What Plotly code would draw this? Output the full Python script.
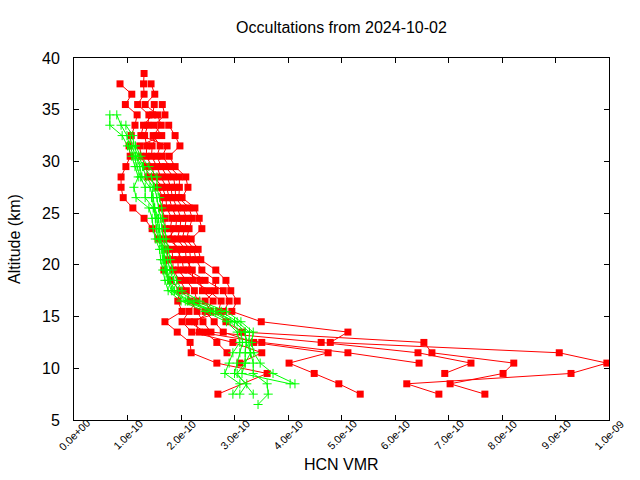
import plotly.graph_objects as go

# ---------------- data ----------------
TITLE = "Occultations from 2024-10-02"
X_LABEL = "HCN VMR"
Y_LABEL = "Altitude (km)"

X_TICK_VALUES = [0.0, 1e-10, 2e-10, 3e-10, 4e-10, 5e-10, 6e-10, 7e-10, 8e-10, 9e-10, 1e-9]
X_TICK_LABELS = ["0.0e+00", "1.0e-10", "2.0e-10", "3.0e-10", "4.0e-10", "5.0e-10",
                 "6.0e-10", "7.0e-10", "8.0e-10", "9.0e-10", "1.0e-09"]
Y_TICK_VALUES = [5, 10, 15, 20, 25, 30, 35, 40]

# altitudes of the red profiles (km)
RED_ALT = [7.5, 8.5, 9.5, 10.5, 11.5, 12.5, 13.5, 14.5, 15.5, 16.5, 17.5, 18.5, 19.5,
           20.5, 21.5, 22.5, 23.5, 24.5, 25.5, 26.5, 27.5, 28.5, 29.5, 30.5, 31.5,
           32.5, 33.5, 34.5, 35.5, 36.5, 37.5, 38.5]

# red profiles, VMR in units of 1e-10 (None = no point)
RED_P1 = [2.69, None, 3.61, 2.67, 2.19, 2.17, 1.93, 1.70, 2.02, 1.94, 1.98, 1.81, 1.68,
          1.76, 1.74, 1.57, 1.46, 1.31, 1.10, 0.92, 0.88, 0.88, 0.97, 1.05, 1.03,
          1.07, 1.14, 1.18, 0.96, 1.08, 0.86, None]
RED_P2 = [5.35, 4.95, 4.49, 4.02, 4.75, 3.36, 2.79, 2.62, 2.45, 2.60, 2.40, 2.35, 2.05,
          2.02, 1.92, 1.84, 1.80, 1.83, 1.73, 1.72, 1.65, 1.50, 1.46, 1.35, 1.36,
          1.32, 1.38, 1.40, 1.19, 1.31, 1.30, 1.31]
RED_P3 = [6.82, 6.22, 9.29, 9.96, 9.07, 4.79, 5.12, 3.50, 2.95, 3.05, 2.93, 2.84, 2.65,
          2.37, 2.32, 2.19, 2.39, 2.34, 2.26, 2.02, 2.13, 2.09, 1.89, 1.78, 1.98,
          1.89, 1.77, None, None, None, None, None]
RED_P4 = [7.68, 7.03, 8.02, 8.22, 6.69, 6.54, 3.14, 2.84, 2.70, 2.75, 2.52, 2.22, 2.21,
          2.10, 2.08, 1.93, 1.98, 2.00, 1.93, 1.84, 1.81, 1.74, 1.63, 1.55, 1.61,
          1.48, 1.63, 1.56, 1.33, 1.51, 1.44, None]
RED_P5 = [None, None, 6.93, 7.42, 6.43, 4.62, 2.56, 2.41, 2.30, 2.17, 2.10, 1.98, 1.85,
          1.85, 1.83, 1.66, 1.70, 1.70, 1.64, 1.66, 1.57, 1.38, 1.35, 1.25, 1.23,
          1.64, 1.50, 1.70, 1.65, None, None, None]
RED_P6 = [None, None, None, 6.45, 5.12, 3.51, 2.34, 2.26, 2.55, 2.45, 2.64, 2.65, 2.39,
          2.28, 2.24, 2.10, 2.15, 2.21, 2.15, 1.96, 1.97, 1.97, 1.79, 1.65, 1.74,
          1.25, 1.30, 1.47, 1.50, None, None, None]
RED_P7 = [None, None, None, 3.10, 3.51, 2.97, 2.20, 2.02, 2.15, 2.30, 2.25, 2.10, 1.95,
          1.94, 2.00, 1.75, 1.90, 1.92, 1.83, 1.78, 1.73, 1.62, 1.55, 1.45, 1.46,
          1.55, None, None, None, None, None, None]
RED_P8 = [None, None, None, None, 2.86, 2.67, 2.45, 2.15, 2.80, 2.90, 2.79, 2.45, 2.13,
          2.18, 2.16, 2.02, 2.07, 2.10, 2.04, 1.90, 1.89, 1.86, 1.71, None, None,
          None, None, None, None, None, None, None]

# altitudes of the green profiles (km)
GREEN_ALT = [6.5, 7.5, 8.5, 9.5, 10.5, 11.5, 12.5, 13.5, 14.5, 15.5, 16.5, 17.5, 18.5,
             19.5, 20.5, 21.5, 22.5, 23.5, 24.5, 25.5, 26.5, 27.5, 28.5, 29.5, 30.5,
             31.5, 32.5, 33.5, 34.5]

# green profiles, VMR in units of 1e-10
GREEN_G1 = [None, 2.97, 3.10, 2.82, 2.90, 2.97, 3.10, 3.05, 2.85, 2.45, 2.00, 1.76, 1.70,
            1.66, 1.62, 1.60, 1.52, 1.48, 1.46, 1.40, 1.16, 1.12, 1.20, 1.14, 1.08,
            1.00, 0.90, 0.67, 0.67]
GREEN_G2 = [None, 3.10, 3.23, 3.00, 3.05, 3.10, 3.15, 3.12, 2.92, 2.55, 2.08, 1.82, 1.75,
            1.70, 1.66, 1.64, 1.57, 1.54, 1.52, 1.48, 1.33, 1.33, 1.24, 1.18, 1.12,
            1.04, 0.99, 0.88, 0.80]
GREEN_G3 = [3.44, 3.63, 3.61, 3.35, 3.35, 3.30, 3.27, 3.28, 3.05, 2.75, 2.25, 1.95, 1.86,
            1.79, 1.75, 1.72, 1.67, 1.65, 1.62, 1.58, 1.55, 1.50, 1.45, 1.30, 1.20,
            1.12, 1.10, 0.97, None]
GREEN_G4 = [None, None, 4.13, 3.72, 3.48, 3.36, 3.32, 3.35, 3.12, 2.85, 2.35, 2.02, 1.92,
            1.84, 1.80, 1.76, 1.72, 1.70, 1.66, 1.64, 1.60, 1.55, 1.55, 1.40, 1.25,
            1.15, None, None, None]
GREEN_G5 = [None, None, 4.04, 3.14, 3.20, 3.20, 3.22, 3.20, 3.00, 2.65, 2.15, 1.88, 1.80,
            1.74, 1.70, 1.68, 1.62, 1.60, 1.58, 1.51, 1.48, 1.42, 1.27, 1.23, 1.16,
            1.08, 1.05, None, None]
GREEN_G6 = [None, 3.35, None, 3.05, 3.20, 3.30, 3.22, 3.20, 3.00, 2.60, 2.12, 1.85, 1.78,
            1.72, 1.68, 1.66, 1.60, 1.57, 1.55, 1.50, 1.45, 1.48, 1.35, 1.28, 1.15,
            None, None, None, None]

RED_PROFILES = [RED_P1, RED_P2, RED_P3, RED_P4, RED_P5, RED_P6, RED_P7, RED_P8]
GREEN_PROFILES = [GREEN_G1, GREEN_G2, GREEN_G3, GREEN_G4, GREEN_G5, GREEN_G6]
UNIT = 1e-10

# ---------------- styles ----------------
FONT = "Liberation Sans, Arial, sans-serif"
RED = "#ff0000"
GREEN = "#00ff00"

fig = go.Figure()


def add_profile(alts, vals, color, symbol, size, mline):
    xs = [v * UNIT for v in vals if v is not None]
    ys = [a for a, v in zip(alts, vals) if v is not None]
    fig.add_trace(go.Scatter(
        x=xs, y=ys, mode="lines+markers",
        line=dict(color=color, width=1),
        marker=dict(symbol=symbol, size=size, color=color,
                    line=dict(color=color, width=mline)),
        showlegend=False, hoverinfo="skip"))


for prof in RED_PROFILES:
    add_profile(RED_ALT, prof, RED, "square", 7, 0)
for prof in GREEN_PROFILES:
    add_profile(GREEN_ALT, prof, GREEN, "cross-thin", 6.5, 1)

L, R, T, B = 74, 31, 58, 60
W, H = 640, 480
plot_h = H - T - B
plot_w = W - L - R

annotations = []
for xv, lab in zip(X_TICK_VALUES, X_TICK_LABELS):
    annotations.append(dict(
        x=xv, y=0, xref="x", yref="paper", text=lab, showarrow=False,
        textangle=-45, xanchor="center", yanchor="middle", yshift=-15,
        font=dict(family=FONT, size=10.7, color="black")))

annotations.append(dict(
    x=0.5, y=-(464.5 - (H - B)) / plot_h, xref="paper", yref="paper",
    text=X_LABEL, showarrow=False, xanchor="center", yanchor="middle",
    font=dict(family=FONT, size=16, color="black")))
annotations.append(dict(
    x=-(L - 14) / plot_w, y=0.5, xref="paper", yref="paper",
    text=Y_LABEL, showarrow=False, textangle=-90, xanchor="center", yanchor="middle",
    font=dict(family=FONT, size=16, color="black")))

axis_common = dict(
    showgrid=False, zeroline=False, showline=True, linecolor="black", linewidth=1,
    mirror="ticks", ticks="inside", ticklen=5, tickwidth=1, tickcolor="black")

fig.update_layout(
    width=W, height=H,
    margin=dict(l=L, r=R, t=T, b=B, pad=0),
    paper_bgcolor="white", plot_bgcolor="white",
    title=dict(text=TITLE, x=0.5, xref="paper", xanchor="center",
               y=1 - 27 / H, yref="container", yanchor="middle",
               font=dict(family=FONT, size=16, color="black")),
    xaxis=dict(range=[0, 1e-9], tickvals=X_TICK_VALUES, showticklabels=False,
               **axis_common),
    yaxis=dict(range=[5, 40], tickvals=Y_TICK_VALUES, ticklabelstandoff=10,
               tickfont=dict(family=FONT, size=16, color="black"), **axis_common),
    annotations=annotations,
)

fig.write_html("out.html")
